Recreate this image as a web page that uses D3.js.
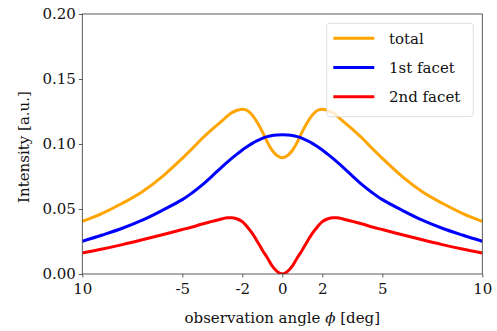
<!DOCTYPE html>
<html>
<head>
<meta charset="utf-8">
<script src="https://cdn.jsdelivr.net/npm/d3@7"></script>
<style>
  html, body { margin: 0; padding: 0; background: #fff; }
  svg { display: block; }
</style>
</head>
<body>
<div id="chart"></div>
<script>
// Angle samples for one side (deg); the curves are symmetric about 0
const anglesHalf = [0, 0.25, 0.5, 0.75, 1, 1.25, 1.5, 1.75, 2, 2.25, 2.5, 2.75, 3, 3.5, 4, 4.5, 5, 6, 7, 8, 9, 10];

const totalHalf = [0.0895, 0.0910, 0.0950, 0.1015, 0.1095, 0.1165, 0.1222, 0.1258, 0.1267, 0.1260, 0.1243, 0.1215, 0.1180, 0.1115, 0.1044, 0.0965, 0.0890, 0.0749, 0.0633, 0.0544, 0.0467, 0.0405];
const facet1Half = [0.1072, 0.1070, 0.1066, 0.1057, 0.1044, 0.1026, 0.1005, 0.0980, 0.0954, 0.0924, 0.0893, 0.0860, 0.0826, 0.0755, 0.0685, 0.0625, 0.0572, 0.0490, 0.0414, 0.0352, 0.0300, 0.0252];
const facet2Half = [0.0000, 0.0018, 0.0060, 0.0125, 0.0185, 0.0250, 0.0313, 0.0362, 0.0403, 0.0423, 0.0432, 0.0433, 0.0425, 0.0405, 0.0385, 0.0362, 0.0342, 0.0302, 0.0263, 0.0226, 0.0192, 0.0162];

const xTicks = [-10, -5, -2, 0, 2, 5, 10];
const xTickLabels = ["10", "-5", "-2", "0", "2", "5", "10"];
const yTicks = [0, 0.05, 0.10, 0.15, 0.20];

const seriesNames = ["total", "1st facet", "2nd facet"];
const seriesColors = ["#ffa500", "#0000ff", "#ff0000"];

// mirror the half tables into full curves
function mirror(half) {
  const pts = [];
  for (let i = anglesHalf.length - 1; i > 0; i--) pts.push([-anglesHalf[i], half[i]]);
  for (let i = 0; i < anglesHalf.length; i++) pts.push([anglesHalf[i], half[i]]);
  return pts;
}
const series = [totalHalf, facet1Half, facet2Half].map(mirror);

const width = 497, height = 331;
const margin = { top: 14, right: 14.7, bottom: 57, left: 82.3 };
const innerW = width - margin.left - margin.right;
const innerH = height - margin.top - margin.bottom;
const font = "'DejaVu Serif', 'Liberation Serif', serif";
const fontSize = "15px";

const svg = d3.select("#chart").append("svg")
  .attr("width", width)
  .attr("height", height);

const g = svg.append("g")
  .attr("transform", `translate(${margin.left},${margin.top})`);

const x = d3.scaleLinear().domain([-10, 10]).range([0, innerW]);
const y = d3.scaleLinear().domain([0, 0.2]).range([innerH, 0]);

// Curves
const line = d3.line()
  .x(d => x(d[0]))
  .y(d => y(d[1]))
  .curve(d3.curveCatmullRom.alpha(0.5));

g.append("defs").append("clipPath").attr("id", "clip")
  .append("rect").attr("width", innerW).attr("height", innerH);

g.append("g").attr("clip-path", "url(#clip)")
  .selectAll("path")
  .data(series)
  .enter()
  .append("path")
  .attr("d", line)
  .attr("fill", "none")
  .attr("stroke", (d, i) => seriesColors[i])
  .attr("stroke-width", 3)
  .attr("stroke-linejoin", "round");

// Axes
const xAxis = g.append("g")
  .attr("transform", `translate(0,${innerH})`)
  .call(d3.axisBottom(x).tickValues(xTicks)
    .tickFormat((d, i) => xTickLabels[i]).tickSizeOuter(0).tickSize(3.5).tickPadding(6));

const yAxis = g.append("g")
  .call(d3.axisLeft(y).tickValues(yTicks)
    .tickFormat(d3.format(".2f")).tickSizeOuter(0).tickSize(3.5).tickPadding(3));

[xAxis, yAxis].forEach(a => {
  a.select(".domain").remove();
  a.selectAll("line").attr("stroke", "#333").attr("stroke-width", 0.8);
  a.selectAll("text")
    .attr("fill", "#111")
    .style("font-family", font)
    .style("font-size", fontSize);
});

// Frame
g.append("rect")
  .attr("width", innerW)
  .attr("height", innerH)
  .attr("fill", "none")
  .attr("stroke", "#333")
  .attr("stroke-width", 0.8);

// Axis titles
const xLabel = svg.append("text")
  .attr("x", margin.left + innerW / 2)
  .attr("y", 323)
  .attr("text-anchor", "middle")
  .attr("fill", "#111")
  .style("font-family", font)
  .style("font-size", fontSize);
xLabel.append("tspan").text("observation angle ");
xLabel.append("tspan").attr("font-style", "italic").text("ϕ");
xLabel.append("tspan").text(" [deg]");

svg.append("text")
  .attr("transform", `translate(29,${margin.top + innerH / 2 + 3}) rotate(-90)`)
  .attr("text-anchor", "middle")
  .attr("fill", "#111")
  .style("font-family", font)
  .style("font-size", fontSize)
  .text("Intensity [a.u.]");

// Legend
const legend = svg.append("g").attr("transform", "translate(326.7,23.3)");
legend.append("rect")
  .attr("width", 146.6)
  .attr("height", 93.4)
  .attr("rx", 3)
  .attr("fill", "#fff")
  .attr("fill-opacity", 0.8)
  .attr("stroke", "#d5d5d5")
  .attr("stroke-width", 0.8);

seriesNames.forEach((name, i) => {
  const row = legend.append("g").attr("transform", `translate(0,${15 + i * 29.2})`);
  row.append("line")
    .attr("x1", 6.6).attr("x2", 47.6)
    .attr("stroke", seriesColors[i])
    .attr("stroke-width", 3);
  row.append("text")
    .attr("x", 62.3)
    .attr("dy", "0.35em")
    .attr("fill", "#111")
    .style("font-family", font)
    .style("font-size", fontSize)
    .text(name);
});
</script>
</body>
</html>
